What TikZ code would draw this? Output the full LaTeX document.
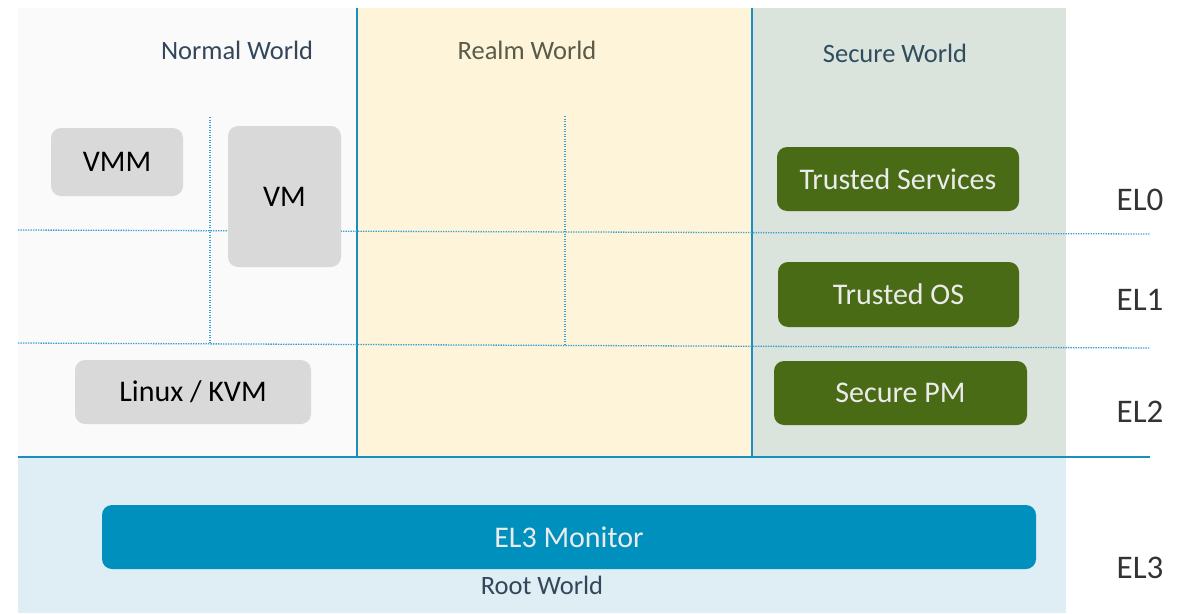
\documentclass[tikz,border=0pt]{standalone}
\usepackage{fontspec}
\setmainfont{Carlito}
\usepackage{tikz}
\usetikzlibrary{positioning}

\definecolor{normalbg}{HTML}{FAFAFA}
\definecolor{realmbg}{HTML}{FDF4D9}
\definecolor{securebg}{HTML}{DBE4DC}
\definecolor{rootbg}{HTML}{DFEDF4}
\definecolor{sepblue}{HTML}{1B8EC0}
\definecolor{dotblue}{HTML}{3A9FCF}
\definecolor{vmgray}{HTML}{D9D9D9}
\definecolor{trustgreen}{HTML}{4A6B16}
\definecolor{monblue}{HTML}{0090BD}
\definecolor{labelslate}{HTML}{34475A}
\definecolor{realmtext}{HTML}{5A5A48}

\begin{document}
\begin{tikzpicture}[
            x=1pt, y=-1pt,
            region/.style={draw=none, inner sep=0pt, anchor=north west},
            gray box/.style={fill=vmgray, rounded corners=10pt, inner sep=0pt,
                text=black, font=\fontsize{30}{32}\selectfont},
            green box/.style={fill=trustgreen, rounded corners=10pt, inner sep=0pt,
                text=white!92!black, font=\fontsize{30}{32}\selectfont},
            world/.style={font=\fontsize{26.5}{28}\selectfont, text=labelslate},
            level/.style={font=\fontsize{33}{35}\selectfont, text=black!80},
            el line/.style={dotblue, line width=1.3pt, dash pattern=on 1.3pt off 1.2pt},
        ]

        \useasboundingbox (0,0) rectangle (1191,613);

        % World regions
        \node[region, fill=normalbg, minimum width=339pt, minimum height=449pt] (normal) at (18,8) {};
        \node[region, fill=realmbg, minimum width=395pt, minimum height=449pt] (realm) at (357,8) {};
        \node[region, fill=securebg, minimum width=314pt, minimum height=449pt] (secure) at (752,8) {};
        \node[region, fill=rootbg, minimum width=1048pt, minimum height=156pt] (rootw) at (18,457) {};

        % Separators
        \draw[sepblue, line width=1.5pt] (realm.north west) -- (realm.south west);
        \draw[sepblue, line width=1.5pt] (secure.north west) -- (secure.south west);
        \draw[sepblue, line width=2pt] (18,457) -- (1150,457);

        % Exception level boundaries
        \draw[el line] (18,230) -- (1150,234);
        \draw[el line] (18,343) -- (1150,348);
        \draw[el line] (210,117) -- (210,343);
        \draw[el line] (565,116) -- (565,345);

        % Normal world
        \node[gray box, minimum width=132pt, minimum height=68pt] (vmm) at (117,162) {VMM};
        \node[gray box, minimum width=113pt, minimum height=141pt] (vm) at (284.5,196.5) {VM};
        \node[gray box, minimum width=236pt, minimum height=64pt] (kvm) at (193,392) {Linux / KVM};

        % Secure world
        \node[green box, minimum width=242pt, minimum height=64pt] (tsvc) at (898,179) {Trusted Services};
        \node[green box, minimum width=241pt, minimum height=65pt] (tos) at (898.5,294.5) {Trusted OS};
        \node[green box, minimum width=253pt, minimum height=64pt] (spm) at (900.5,393) {Secure PM};

        % Root world
        \node[fill=monblue, rounded corners=10pt, inner sep=0pt, minimum width=934pt,
            minimum height=64pt, text=white!92!black, font=\fontsize{30}{32}\selectfont]
            (mon) at (569,537) {EL3 Monitor};

        % World labels
        \node[world] (nw) at (237,50) {Normal World};
        \node[world, text=realmtext] (rw) at (527,50) {Realm World};
        \node[world, text=labelslate!90!teal] (sw) at (895,53) {Secure World};
        \node[world] (rootlbl) at (542,585) {Root World};

        % Level labels
        \node[level] (el0) at (1140,200) {EL0};
        \node[level] (el1) at (1140,300) {EL1};
        \node[level] (el2) at (1140,412) {EL2};
        \node[level] (el3) at (1140,568) {EL3};

    \end{tikzpicture}
\end{document}
